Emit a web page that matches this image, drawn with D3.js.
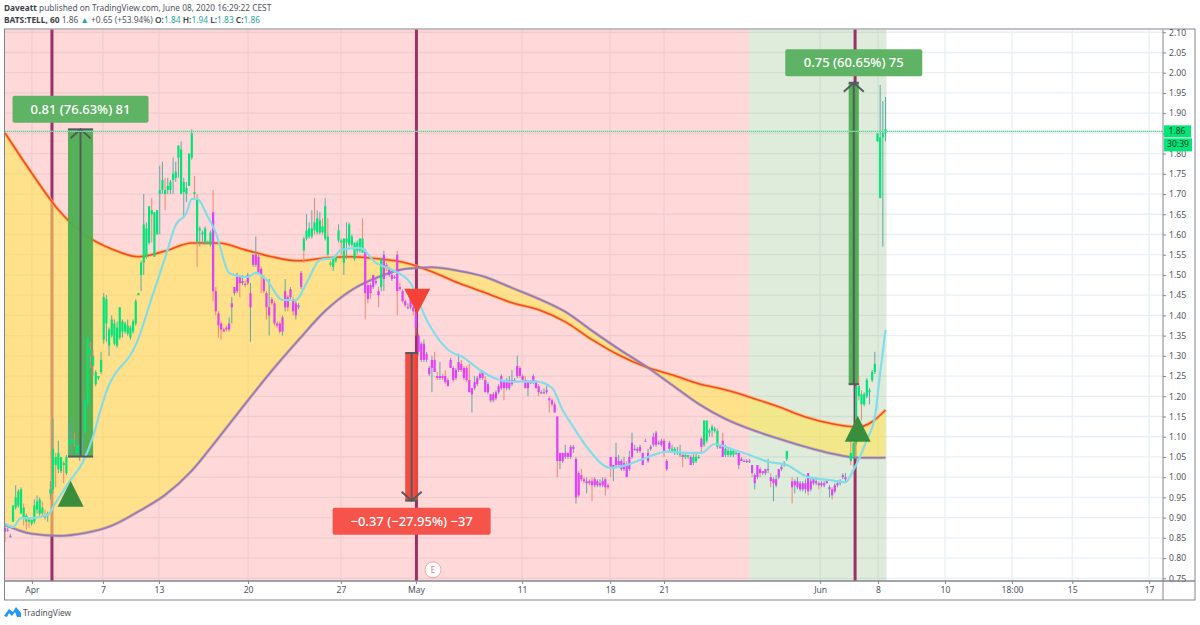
<!DOCTYPE html>
<html>
<head>
<meta charset="utf-8">
<title>BATS:TELL, 60</title>
<script src="https://cdn.jsdelivr.net/npm/d3@7"></script>
<style>
  html, body { margin: 0; padding: 0; background: #fff; }
  text { font-family: "Noto Sans", sans-serif; }
</style>
</head>
<body>
<svg id="svg_chart" width="1200" height="625"></svg>
<script>
// Candles are [open, high, low, close]. Bar number = position in list + start bar.
const bars_a = [
  [.875,.88,.84,.865],[.87,.875,.865,.87],[.855,.86,.85,.855],[.89,.93,.89,.93],[.925,.98,.92,.95],
  [.93,.97,.925,.965],[.91,.975,.91,.97],[.925,.935,.88,.90],[.905,.91,.87,.89],[.895,.90,.875,.89],
  [.885,.895,.88,.895],[.89,.945,.885,.93],[.92,.955,.91,.94],[.91,.95,.905,.945],[.925,.94,.905,.91],
  [.905,.92,.895,.90],[.905,.915,.89,.91],[.96,.99,.945,.97],[.97,1.145,.96,1.07],[1.05,1.06,.975,1.03],
  [1.02,1.09,1.01,1.06],[1.015,1.05,1.01,1.05],[1.035,1.04,.985,1.03],[1.01,1.055,1.005,1.05],[1.08,1.135,1.05,1.09],
  [1.085,1.15,1.05,1.095],[1.09,1.11,1.075,1.085],[1.06,1.085,1.05,1.08],[1.05,1.085,1.04,1.08],[1.09,1.10,1.05,1.095],
  [1.11,1.195,1.105,1.19],[1.18,1.35,1.175,1.345],[1.315,1.335,1.27,1.305],[1.30,1.315,1.25,1.275],[1.23,1.265,1.225,1.26],
  [1.245,1.25,1.24,1.25],[1.26,1.31,1.255,1.29]
];
const bars_b = [
  [1.34,1.455,1.33,1.445],[1.38,1.45,1.335,1.44],[1.325,1.37,1.30,1.365],[1.35,1.40,1.345,1.39],[1.33,1.39,1.325,1.38],
  [1.325,1.385,1.32,1.37],[1.345,1.42,1.34,1.42],[1.36,1.39,1.345,1.385],[1.36,1.385,1.355,1.38],[1.355,1.39,1.35,1.375],
  [1.345,1.375,1.34,1.37],[1.36,1.39,1.355,1.385],[1.38,1.44,1.375,1.435],[1.45,1.455,1.45,1.455],[1.50,1.535,1.46,1.53],
  [1.53,1.70,1.50,1.625],[1.545,1.63,1.54,1.615],[1.58,1.67,1.575,1.67],[1.66,1.69,1.58,1.65],[1.545,1.655,1.545,1.655],
  [1.60,1.66,1.60,1.66],[1.70,1.77,1.60,1.71],[1.71,1.78,1.70,1.735],[1.71,1.74,1.66,1.70],[1.71,1.74,1.70,1.72],
  [1.71,1.735,1.70,1.73],[1.735,1.79,1.70,1.75],[1.74,1.78,1.73,1.755],[1.79,1.82,1.74,1.82],[1.70,1.83,1.70,1.81],
  [1.705,1.74,1.64,1.73],[1.70,1.73,1.68,1.715],[1.72,1.80,1.72,1.80],[1.79,1.86,1.785,1.85],[1.705,1.745,1.685,1.70],
  [1.69,1.70,1.52,1.58],[1.61,1.62,1.57,1.615],[1.60,1.61,1.58,1.605],[1.58,1.62,1.575,1.615],[1.58,1.585,1.575,1.58],
  [1.575,1.61,1.57,1.605]
];
const bars_c = [
  [1.655,1.71,1.435,1.46],[1.46,1.47,1.40,1.41],[1.405,1.41,1.345,1.375],[1.38,1.385,1.34,1.365],[1.365,1.37,1.36,1.36],
  [1.37,1.375,1.36,1.365],[1.365,1.395,1.36,1.38],[1.42,1.445,1.38,1.43],[1.455,1.47,1.45,1.47],[1.46,1.505,1.455,1.50],
  [1.495,1.50,1.445,1.48],[1.48,1.50,1.475,1.485],[1.478,1.485,1.47,1.475],[1.48,1.505,1.475,1.50],[1.42,1.48,1.335,1.455],
  [1.525,1.55,1.52,1.55],[1.525,1.595,1.52,1.55],[1.545,1.55,1.50,1.505],[1.515,1.52,1.455,1.50],[1.495,1.50,1.455,1.46],
  [1.455,1.46,1.39,1.42],[1.40,1.49,1.35,1.42],[1.44,1.445,1.425,1.43],[1.43,1.435,1.375,1.38],[1.38,1.385,1.37,1.375],
  [1.38,1.385,1.355,1.36],[1.36,1.40,1.35,1.395]
];
const bars_d = [
  [1.42,1.49,1.41,1.46],[1.445,1.45,1.41,1.42],[1.445,1.47,1.44,1.465],[1.44,1.445,1.40,1.41],[1.40,1.435,1.39,1.43],
  [1.42,1.43,1.415,1.425],[1.47,1.51,1.465,1.505],[1.59,1.595,1.53,1.56],[1.59,1.65,1.585,1.61],[1.595,1.63,1.59,1.615],
  [1.595,1.66,1.59,1.615],[1.63,1.69,1.60,1.61],[1.605,1.66,1.60,1.64],[1.605,1.655,1.60,1.635],[1.62,1.64,1.60,1.605],
  [1.59,1.69,1.585,1.67],[1.595,1.64,1.545,1.55],[1.53,1.535,1.52,1.525],[1.52,1.545,1.51,1.545],[1.535,1.55,1.53,1.545],
  [1.585,1.625,1.58,1.61],[1.585,1.59,1.55,1.58],[1.53,1.59,1.50,1.59],[1.58,1.63,1.54,1.59],[1.575,1.63,1.57,1.625],
  [1.575,1.60,1.57,1.595],[1.54,1.58,1.535,1.58],[1.56,1.585,1.55,1.58],[1.56,1.59,1.555,1.59],[1.59,1.64,1.555,1.555]
];
const bars_e = [
  [1.56,1.565,1.39,1.455],[1.475,1.48,1.43,1.44],[1.475,1.48,1.44,1.455],[1.47,1.50,1.465,1.50],[1.48,1.49,1.475,1.485],
  [1.46,1.47,1.42,1.45],[1.47,1.54,1.46,1.54],[1.49,1.56,1.46,1.55],[1.525,1.53,1.51,1.52],[1.50,1.52,1.495,1.515],
  [1.49,1.51,1.485,1.50],[1.495,1.50,1.49,1.495],[1.55,1.56,1.40,1.46],[1.47,1.48,1.46,1.465],[1.46,1.465,1.43,1.435],
  [1.435,1.44,1.42,1.425],[1.42,1.43,1.415,1.42],[1.42,1.445,1.415,1.44],[1.42,1.425,1.40,1.41],[1.405,1.41,1.35,1.37]
];
const bars_f = [
  [1.35,1.355,1.30,1.31],[1.29,1.335,1.285,1.33],[1.29,1.34,1.285,1.33],[1.29,1.31,1.285,1.305],[1.255,1.275,1.25,1.27],
  [1.27,1.30,1.21,1.29],[1.29,1.31,1.26,1.26],[1.25,1.26,1.24,1.245],[1.245,1.285,1.24,1.25],[1.25,1.255,1.24,1.245],
  [1.25,1.265,1.23,1.235],[1.24,1.245,1.225,1.225],[1.27,1.295,1.27,1.29],[1.27,1.275,1.235,1.24],[1.245,1.27,1.24,1.265],
  [1.265,1.305,1.26,1.285],[1.28,1.29,1.26,1.265],[1.27,1.275,1.24,1.245],[1.27,1.275,1.235,1.24],[1.24,1.28,1.21,1.21],
  [1.205,1.22,1.16,1.22],[1.22,1.25,1.215,1.235],[1.23,1.25,1.225,1.245],[1.245,1.26,1.24,1.255],[1.26,1.265,1.24,1.245],
  [1.24,1.25,1.21,1.21],[1.21,1.235,1.205,1.23],[1.19,1.205,1.185,1.205],[1.19,1.21,1.185,1.205],[1.195,1.215,1.19,1.21],
  [1.21,1.23,1.205,1.225],[1.22,1.255,1.215,1.25],[1.235,1.24,1.19,1.22],[1.22,1.245,1.215,1.24],[1.22,1.25,1.215,1.24],
  [1.23,1.265,1.225,1.24],[1.24,1.245,1.235,1.24],[1.25,1.30,1.245,1.275],[1.27,1.275,1.245,1.25],[1.25,1.255,1.235,1.24],
  [1.24,1.25,1.22,1.22],[1.22,1.24,1.20,1.235],[1.235,1.24,1.23,1.235],[1.235,1.255,1.23,1.25],[1.235,1.24,1.22,1.22],
  [1.225,1.23,1.20,1.21],[1.21,1.215,1.205,1.21],[1.21,1.22,1.205,1.21],[1.21,1.23,1.205,1.215],[1.195,1.20,1.16,1.19],
  [1.19,1.195,1.175,1.18],[1.18,1.185,1.16,1.16]
];
const bars_g = [
  [1.15,1.15,1.00,1.04],[1.04,1.06,1.02,1.06],[1.04,1.06,1.035,1.06],[1.05,1.08,1.045,1.06],[1.05,1.06,1.045,1.06],
  [1.05,1.08,1.045,1.075],[1.07,1.08,1.06,1.075],[.95,1.05,.935,1.045],[1.01,1.015,.95,.955],[1.005,1.02,.99,.995],
  [.995,1.0,.985,.99],[.985,1.0,.96,.99],[.99,.995,.98,.985],[.99,1.0,.94,.98],[.98,1.0,.975,.995],
  [.98,.995,.975,.99],[.98,.995,.975,.985],[.98,1.0,.975,.99],[.995,1.0,.955,.975],[.98,.985,.97,.975],
  [1.05,1.05,1.0,1.02],[1.02,1.03,.99,1.03],[1.03,1.085,1.025,1.05],[1.03,1.055,1.025,1.04],[1.02,1.045,1.015,1.04],
  [1.02,1.05,1.015,1.035],[1.03,1.04,1.0,1.0],[1.02,1.065,1.015,1.05],[1.05,1.11,1.045,1.085],[1.07,1.08,1.065,1.07],
  [1.065,1.075,1.06,1.07],[1.065,1.08,1.06,1.075],[1.06,1.06,1.03,1.03],[1.09,1.095,1.09,1.09],[1.04,1.07,1.035,1.06],
  [1.07,1.08,1.065,1.075],[1.08,1.11,1.075,1.10],[1.08,1.115,1.075,1.11],[1.085,1.09,1.08,1.085],[1.08,1.095,1.075,1.09],
  [1.09,1.095,1.05,1.06],[1.02,1.045,1.015,1.04],[1.07,1.09,1.06,1.085],[1.065,1.08,1.06,1.07],[1.06,1.075,1.055,1.07],
  [1.06,1.075,1.055,1.065],[1.055,1.08,1.05,1.06],[1.055,1.06,1.025,1.05],[1.05,1.06,1.045,1.055],[1.05,1.055,1.045,1.055],
  [1.05,1.055,1.03,1.03],[1.035,1.06,1.03,1.05],[1.04,1.06,1.035,1.05],[1.05,1.055,1.045,1.05],[1.095,1.10,1.06,1.075],
  [1.08,1.14,1.075,1.14],[1.09,1.14,1.085,1.14],[1.11,1.12,1.10,1.115],[1.115,1.13,1.10,1.125],[1.115,1.125,1.11,1.12],
  [1.115,1.12,1.07,1.075],[1.075,1.08,1.07,1.075],[1.09,1.11,1.05,1.05],[1.055,1.08,1.05,1.07],[1.055,1.07,1.05,1.065],
  [1.055,1.07,1.05,1.065],[1.055,1.07,1.05,1.065],[1.06,1.065,1.055,1.06],[1.03,1.06,1.02,1.06],[1.04,1.05,1.04,1.045],
  [1.04,1.045,1.04,1.04],[1.04,1.045,1.035,1.04],[1.04,1.045,1.035,1.04]
];
const bars_h = [
  [1.03,1.03,1.0,1.01],[.985,1.01,.97,1.005],[1.0,1.03,.995,1.03],[1.02,1.025,1.0,1.01],[1.01,1.015,1.005,1.015],
  [1.01,1.02,1.005,1.02],[1.02,1.045,1.01,1.02],[1.0,1.01,.975,.99],[.985,1.0,.94,.995],[.98,1.005,.975,.995],
  [1.0,1.02,.995,1.02],[1.02,1.03,1.015,1.025],[1.03,1.04,1.025,1.035],[1.045,1.065,1.04,1.065],null,
  [.99,1.0,.935,.975],[.98,.995,.96,.99],[.975,1.0,.97,.99],[.97,.99,.965,.985],[.97,.99,.965,.985],
  [.97,.995,.96,.985],[1.01,1.01,.955,.965],[.97,1.0,.965,.99],[.985,1.0,.98,.995],[.985,1.0,.98,.99],
  [.985,.99,.97,.98],[.98,.99,.975,.985],[.98,.99,.975,.985],[.99,.995,.985,.985],[.97,.98,.95,.975],
  [.97,.975,.945,.955],[.965,.985,.96,.98],[.98,.99,.975,.985],[.985,.995,.98,.99],[1.0,1.01,.995,1.005],
  [.995,1.01,.99,1.0],null,[1.06,1.09,1.03,1.04],[1.05,1.085,1.045,1.085],[1.085,1.23,1.08,1.225],
  [1.225,1.25,1.19,1.20],[1.205,1.215,1.14,1.18],[1.18,1.21,1.175,1.205],[1.20,1.245,1.195,1.24],[1.21,1.22,1.18,1.215],
  [1.24,1.265,1.235,1.26],[1.26,1.31,1.255,1.28],[1.83,1.85,1.83,1.85],[1.69,1.97,1.69,1.84],[1.84,1.93,1.57,1.85],
  [1.85,1.94,1.83,1.86]
];
const bar_sets = [[0, bars_a], [37, bars_b], [78, bars_c], [105, bars_d], [135, bars_e], [155, bars_f], [207, bars_g], [280, bars_h]];

// Stretches of bars whose bodies are green, the rest are magenta
const green_stretches = [[3,77],[112,134],[141,141],[250,253],[255,256],[258,260],[262,267],[270,274],[293,293],[317,330]];

// Slow averages (the red and the purple line)
const slow_bars = [0,10,20,30,40,50,60,70,80,90,100,110,120,130,140,150,160,170,180,190,200,210,220,230,240,250,260,270,280,290,300,310,320,325,330];
const red_line = [1.851,1.752,1.661,1.599,1.564,1.545,1.559,1.579,1.579,1.562,1.545,1.535,1.542,1.545,1.54,1.53,1.508,1.48,1.456,1.431,1.414,1.384,1.34,1.302,1.273,1.253,1.231,1.216,1.196,1.174,1.149,1.132,1.124,1.137,1.166];
const purple_line = [.882,.86,.855,.862,.88,.915,.956,1.016,1.097,1.181,1.263,1.339,1.411,1.463,1.495,1.515,1.519,1.51,1.495,1.468,1.441,1.409,1.362,1.317,1.275,1.228,1.181,1.144,1.117,1.095,1.075,1.058,1.048,1.048,1.048];

// Fast average (light blue)
const fast_bars = [0,3,6,10,16,19,24,29,33,36,39,41,47,49,55,60,64,68,70,72,76,79,84,87,91,94,98,104,109,113,118,123,126,133,139,145,152,158,166,172,178,183,190,199,205,209,213,218,227,233,241,248,258,261,266,273,279,286,293,301,309,315,318,323,326,328,330];
const fast_line = [.885,.877,.899,.899,.907,.937,.988,1.035,1.10,1.171,1.228,1.253,1.302,1.327,1.443,1.542,1.624,1.653,1.688,1.688,1.644,1.604,1.505,1.498,1.495,1.505,1.488,1.438,1.438,1.48,1.537,1.542,1.562,1.567,1.53,1.513,1.48,1.389,1.315,1.295,1.265,1.246,1.236,1.236,1.221,1.166,1.124,1.075,1.023,1.03,1.05,1.063,1.06,1.06,1.082,1.068,1.055,1.038,1.03,1.0,.993,.988,1.018,1.092,1.149,1.258,1.364];

// Axis ticks
const time_ticks = [10.1,36.7,57.7,91.1,125.9,154,193.8,226.8,247,305.5,327.2,352.3,377.4,400,428.8];
const time_labels = ["Apr","7","13","20","27","May","11","18","21","Jun","8","10","18:00","15","17"];
const price_ticks = [.75,.80,.85,.90,.95,1.00,1.05,1.10,1.15,1.20,1.25,1.30,1.35,1.40,1.45,1.50,1.55,1.60,1.65,1.70,1.75,1.80,1.85,1.90,1.95,2.00,2.05,2.10];

// Background stretches and signals
const pink_stretch = [-0.2, 278.9];
const green_stretch = [278.9, 330.4];
const signal_bars = [17.6, 154.2, 318.6];
const up_signals = [[24.6, .991], [319.6, 1.152]];
const down_signals = [[154.5, 1.404]];

// Measured moves: bar from, bar to, price start, price end, label
const move_from = [23.6, 150, 316.2];
const move_to = [33, 154.8, 320];
const move_start = [1.051, 1.307, 1.23];
const move_end = [1.86, .942, 1.975];
const move_labels = ["0.81 (76.63%) 81", "\u22120.37 (\u221227.95%) \u221237", "0.75 (60.65%) 75"];
const move_widths = [136, 158, 137];
const move_colors = ["#5fb365", "#f6534b", "#5fb365"];

const last_price = 1.855;
const earnings_bar = 160.4, earnings_price = .771;

const svg = d3.select("#svg_chart");
const plot_left = 5, plot_right = 1163, plot_top = 29.5, plot_bottom = 581, frame_right = 1195, frame_bottom = 600;

const x_scale = d3.scaleLinear().domain([0, 434]).range([plot_left, plot_right]);
const y_scale = d3.scaleLinear().domain([2, .75]).range([72.7, 578.3]);

// Grid sits under the tinted background so that it shows through
const grid = svg.append("g").attr("stroke", "#e9f0f5").attr("stroke-width", 1.3);
grid.selectAll("line.h").data(price_ticks).enter().append("line")
  .attr("class", "h").attr("x1", plot_left).attr("x2", plot_right)
  .attr("y1", d => y_scale(d)).attr("y2", d => y_scale(d));
grid.selectAll("line.v").data(time_ticks).enter().append("line")
  .attr("class", "v").attr("y1", plot_top).attr("y2", plot_bottom)
  .attr("x1", d => x_scale(d)).attr("x2", d => x_scale(d));

svg.append("rect").attr("x", x_scale(pink_stretch[0])).attr("width", x_scale(pink_stretch[1]) - x_scale(pink_stretch[0]))
  .attr("y", plot_top).attr("height", plot_bottom - plot_top).attr("fill", "rgba(255,82,82,.22)");
svg.append("rect").attr("x", x_scale(green_stretch[0])).attr("width", x_scale(green_stretch[1]) - x_scale(green_stretch[0]))
  .attr("y", plot_top).attr("height", plot_bottom - plot_top).attr("fill", "rgba(100,160,75,.2)");

// Signal lines go under the yellow band
svg.selectAll("line.signal").data(signal_bars).enter().append("line")
  .attr("class", "signal").attr("x1", d => x_scale(d)).attr("x2", d => x_scale(d))
  .attr("y1", plot_top).attr("y2", plot_bottom)
  .attr("stroke", "#9c2f66").attr("stroke-width", 3);

// Yellow band between the two slow lines
const band = d3.area().curve(d3.curveMonotoneX)
  .x(d => x_scale(d))
  .y0((d, i) => y_scale(purple_line[i]))
  .y1((d, i) => y_scale(red_line[i]));
svg.append("path").attr("d", band(slow_bars)).attr("fill", "rgba(255,229,86,.6)");

function draw_line(bars, values, color, width) {
  const line = d3.line().curve(d3.curveMonotoneX)
    .x(d => x_scale(d))
    .y((d, i) => y_scale(values[i]));
  svg.append("path").attr("d", line(bars)).attr("fill", "none")
    .attr("stroke", color).attr("stroke-width", width).attr("stroke-linejoin", "round");
}

draw_line(slow_bars, red_line, "rgba(255,183,77,.8)", 3.4);
draw_line(slow_bars, red_line, "#f44730", 1.6);
draw_line(slow_bars, purple_line, "rgba(170,150,100,.55)", 3);
draw_line(slow_bars, purple_line, "#9575cd", 1.6);

// Measured moves: bar, caps, arrow, label
const moves = move_labels.map((label, i) => ({
  label: label, from: move_from[i], to: move_to[i], start: move_start[i], end: move_end[i],
  width: move_widths[i], color: move_colors[i], dark: i != 1 ? "#4caf50" : "#f44336"
}));

const move_g = svg.selectAll("g.move").data(moves).enter().append("g").attr("class", "move");
move_g.append("rect")
  .attr("x", d => x_scale(d.from)).attr("width", d => x_scale(d.to) - x_scale(d.from))
  .attr("y", d => Math.min(y_scale(d.start), y_scale(d.end)))
  .attr("height", d => Math.abs(y_scale(d.start) - y_scale(d.end)))
  .attr("fill", d => d.dark).attr("opacity", .95);

// Candles
function is_green(bar) {
  return green_stretches.some(s => bar >= s[0] && bar <= s[1]);
}
const candles = [];
bar_sets.forEach(set => {
  set[1].forEach((row, i) => {
    if (row) candles.push({ bar: set[0] + i, open: row[0], high: row[1], low: row[2], close: row[3] });
  });
});

const candle_g = svg.append("g");
candle_g.selectAll("line").data(candles).enter().append("line")
  .attr("x1", d => x_scale(d.bar)).attr("x2", d => x_scale(d.bar))
  .attr("y1", d => y_scale(d.high)).attr("y2", d => y_scale(d.low))
  .attr("stroke", d => d.close >= d.open ? "#5fa8a4" : "#f2857a").attr("stroke-width", 1);
candle_g.selectAll("rect").data(candles).enter().append("rect")
  .attr("x", d => x_scale(d.bar) - 1.1).attr("width", 2.2)
  .attr("y", d => y_scale(Math.max(d.open, d.close)))
  .attr("height", d => Math.max(1, Math.abs(y_scale(d.open) - y_scale(d.close))))
  .attr("fill", d => is_green(d.bar) ? "#00e676" : "#e040fb");

draw_line(fast_bars, fast_line, "#80deea", 2.2);

// Arrows on top of the candles
const arrow_color = "#555a60";
move_g.each(function(d) {
  const g = svg.append("g").attr("stroke", arrow_color).attr("fill", "none");
  const mid = (x_scale(d.from) + x_scale(d.to)) / 2,
    y0 = y_scale(d.start), y1 = y_scale(d.end), dir = y1 < y0 ? 1 : -1;
  g.append("line").attr("x1", mid).attr("x2", mid).attr("y1", y0).attr("y2", y1).attr("stroke-width", 2);
  g.append("line").attr("x1", x_scale(d.from)).attr("x2", x_scale(d.to)).attr("y1", y0).attr("y2", y0).attr("stroke-width", 2);
  g.append("line").attr("x1", x_scale(d.from)).attr("x2", x_scale(d.to)).attr("y1", y1).attr("y2", y1).attr("stroke-width", 2);
  g.append("path").attr("d", `M${mid - 10},${y1 + dir * 9} L${mid},${y1} L${mid + 10},${y1 + dir * 9}`).attr("stroke-width", 2);

  // label box above / below the end of the move
  const box_y = dir > 0 ? y1 - 33.5 : y1 + 7;
  svg.append("rect").attr("x", mid - d.width / 2).attr("y", box_y).attr("width", d.width).attr("height", 27)
    .attr("rx", 2).attr("fill", d.color);
  svg.append("text").attr("x", mid).attr("y", box_y + 18).attr("text-anchor", "middle")
    .attr("font-size", 13).attr("font-weight", 500).attr("fill", "#fff").text(d.label);
});

// Triangles
svg.selectAll("path.up").data(up_signals).enter().append("path").attr("class", "up")
  .attr("d", d => `M${x_scale(d[0])},${y_scale(d[1])} l13,26 l-26,0 Z`).attr("fill", "#388e3c");
svg.selectAll("path.down").data(down_signals).enter().append("path").attr("class", "down")
  .attr("d", d => `M${x_scale(d[0])},${y_scale(d[1])} l13,-25 l-26,0 Z`).attr("fill", "#f44336");

// Last price line
const last_y = y_scale(last_price);
svg.append("line").attr("x1", plot_left).attr("x2", plot_right).attr("y1", last_y).attr("y2", last_y)
  .attr("stroke", "#a5dfb8").attr("stroke-width", 1);
svg.append("line").attr("x1", plot_left).attr("x2", plot_right).attr("y1", last_y).attr("y2", last_y)
  .attr("stroke", "#3fd68a").attr("stroke-width", 1).attr("stroke-dasharray", "1,1");

// Earnings marker
svg.append("circle").attr("cx", x_scale(earnings_bar)).attr("cy", y_scale(earnings_price)).attr("r", 8)
  .attr("fill", "#fff").attr("stroke", "#f3a6a6").attr("stroke-width", 1);
svg.append("text").attr("x", x_scale(earnings_bar)).attr("y", y_scale(earnings_price) + 3)
  .attr("text-anchor", "middle").attr("font-size", 8).attr("fill", "#e57373").text("E");

// Frame
svg.append("rect").attr("x", plot_left - .5).attr("y", plot_top - .5)
  .attr("width", frame_right - plot_left + .5).attr("height", frame_bottom - plot_top + .5)
  .attr("fill", "none").attr("stroke", "#83868c").attr("stroke-width", 1);

// Axes
const y_axis = d3.axisRight(y_scale).tickValues(price_ticks).tickSize(3).tickFormat(d3.format(".2f"));
const y_axis_g = svg.append("g").attr("transform", `translate(${plot_right},0)`).call(y_axis);
y_axis_g.select(".domain").attr("stroke", "#83868c").attr("d", `M0,${plot_top}V${frame_bottom}`);
y_axis_g.selectAll("text").attr("font-size", 8.6).attr("fill", "#50535e").attr("x", 6);
y_axis_g.selectAll("line").attr("stroke", "#83868c");

const x_axis = d3.axisBottom(x_scale).tickValues(time_ticks).tickSize(3)
  .tickFormat((d, i) => time_labels[i]);
const x_axis_g = svg.append("g").attr("transform", `translate(0,${plot_bottom})`).call(x_axis);
x_axis_g.select(".domain").attr("stroke", "#83868c").attr("stroke-width", 1.4).attr("d", `M${plot_left},0H${frame_right}`);
x_axis_g.selectAll("text").attr("font-size", 8.6).attr("fill", "#50535e").attr("y", 6);
x_axis_g.selectAll("line").attr("stroke", "#83868c");

// Last price tags
svg.append("rect").attr("x", 1164).attr("y", last_y - 6).attr("width", 27).attr("height", 12).attr("fill", "#00e676");
svg.append("text").attr("x", 1177).attr("y", last_y + 3).attr("text-anchor", "middle")
  .attr("font-size", 8.6).attr("fill", "#1f3a2c").text("1.86");
svg.append("rect").attr("x", 1164).attr("y", last_y + 7).attr("width", 28).attr("height", 13).attr("fill", "#00e676");
svg.append("text").attr("x", 1178).attr("y", last_y + 16).attr("text-anchor", "middle")
  .attr("font-size", 8.6).attr("fill", "#1f3a2c").text("30:39");

// Header
const head1 = svg.append("text").attr("x", 4).attr("y", 11).attr("font-size", 8.3).attr("fill", "#50535e");
head1.append("tspan").attr("font-weight", 700).attr("fill", "#3b3e46").text("Daveatt");
head1.append("tspan").text(" published on TradingView.com, June 08, 2020 16:29:22 CEST");

const head2 = svg.append("text").attr("x", 4).attr("y", 23).attr("font-size", 8.4).attr("fill", "#50535e");
head2.append("tspan").attr("font-weight", 700).attr("fill", "#3b3e46").text("BATS:TELL, 60");
head2.append("tspan").text("  1.86 ");
head2.append("tspan").attr("fill", "#26a69a").text("\u25B2");
head2.append("tspan").text(" +0.65 (+53.94%) ");
[["O:", "1.84"], ["H:", "1.94"], ["L:", "1.83"], ["C:", "1.86"]].forEach(p => {
  head2.append("tspan").attr("font-weight", 600).attr("fill", "#3b3e46").text(p[0]);
  head2.append("tspan").attr("fill", "#26a69a").text(p[1] + " ");
});

// TradingView logo
svg.append("path")
  .attr("d", "M4,616 L9,609 L13,612 L16,607 L21,613 L21,617 L17,617 L15,612 L12,616 L9,613 L7,617 Z")
  .attr("fill", "#2196f3");
svg.append("text").attr("x", 23).attr("y", 616).attr("font-size", 8.4).attr("fill", "#50535e").text("TradingView");
</script>
</body>
</html>
